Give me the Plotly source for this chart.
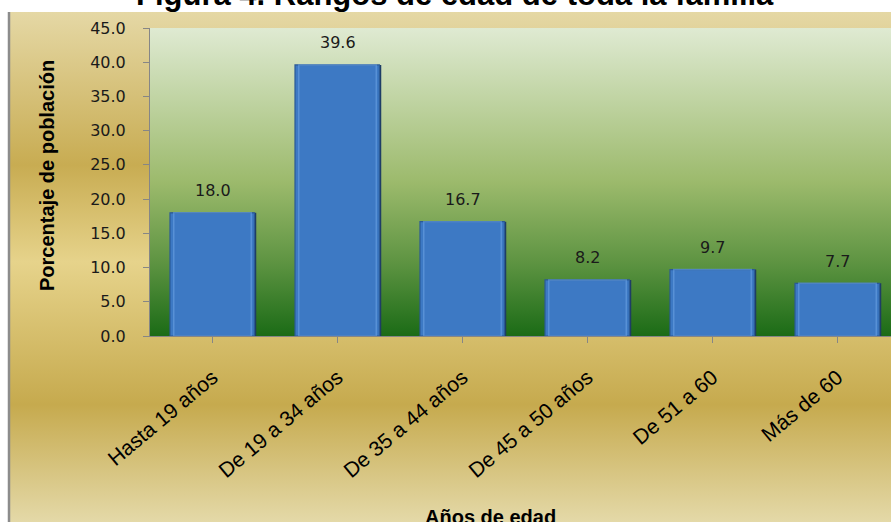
import base64
import plotly.graph_objects as go

# ---- data ----
categories = ["Hasta 19 años", "De 19 a 34 años", "De 35 a 44 años",
              "De 45 a 50 años", "De 51 a 60", "Más de 60"]
values = [18.0, 39.6, 16.7, 8.2, 9.7, 7.7]
y_ticks = [0, 5, 10, 15, 20, 25, 30, 35, 40, 45]
title_text = "Figura 4. Rangos de edad de toda la familia"
x_title = "Años de edad"
y_title = "Porcentaje de población"

W, H = 891, 522
ML, MR, MT, MB = 150, 0, 28, 186
PW, PH = W - ML - MR, H - MT - MB


def px_x(p):
    return (p - ML) / PW


def px_y(p):
    return (H - MB - p) / PH


def svg_gradient(stops):
    st = "".join(f'<stop offset="{o}" stop-color="{c}"/>' for o, c in stops)
    svg = ('<svg xmlns="http://www.w3.org/2000/svg" width="100" height="100" preserveAspectRatio="none">'
           '<defs><linearGradient id="g" x1="0" y1="0" x2="0" y2="1">' + st +
           '</linearGradient></defs><rect width="100" height="100" fill="url(#g)"/></svg>')
    return "data:image/svg+xml;base64," + base64.b64encode(svg.encode()).decode()


gold = svg_gradient([(0, "#E5D8A5"), (0.30, "#C8AC52"), (0.49, "#E6D38B"),
                     (0.77, "#C6AA4E"), (1, "#E4D9A8")])
green = svg_gradient([(0, "#DFEAD2"), (0.5, "#9CBA6C"), (0.76, "#5E9442"), (1, "#1B6B16")])

fig = go.Figure()

# shadow
fig.add_trace(go.Bar(x=list(range(len(categories))), y=values, width=0.68, offset=-0.33,
                     marker=dict(color="#1E3D66", line=dict(width=0)),
                     hoverinfo="skip", showlegend=False))
# main bars
fig.add_trace(go.Bar(x=list(range(len(categories))), y=values, width=0.675, offset=-0.34,
                     marker=dict(color="#3D79C4", line=dict(color="#2B5A96", width=1.2)),
                     showlegend=False))
# inner highlight frame
fig.add_trace(go.Bar(x=list(range(len(categories))), y=values, width=0.62, offset=-0.31,
                     marker=dict(color="rgba(0,0,0,0)", line=dict(color="rgba(110,165,230,0.55)", width=1.5)),
                     hoverinfo="skip", showlegend=False))

annotations = []
for i, v in enumerate(values):
    annotations.append(dict(x=i, y=v, xref="x", yref="y", text=f"{v:.1f}", showarrow=False,
                            yanchor="middle", yshift=22,
                            font=dict(family="DejaVu Sans", size=16, color="#1a1a1a")))

annotations.append(dict(x=px_x(455), y=px_y(-5), xref="paper", yref="paper", text=f"<b>{title_text}</b>",
                        showarrow=False, xanchor="center", yanchor="middle",
                        font=dict(family="Liberation Sans", size=31, color="#000000")))
annotations.append(dict(x=px_x(490), y=px_y(517), xref="paper", yref="paper", text=f"<b>{x_title}</b>",
                        showarrow=False, xanchor="center", yanchor="middle",
                        font=dict(family="Liberation Sans", size=20, color="#000000")))
annotations.append(dict(x=px_x(47), y=px_y(176), xref="paper", yref="paper", text=f"<b>{y_title}</b>",
                        showarrow=False, xanchor="center", yanchor="middle", textangle=-90,
                        font=dict(family="Liberation Sans", size=20, color="#000000")))

fig.update_layout(
    width=W, height=H,
    margin=dict(l=ML, r=MR, t=MT, b=MB, pad=0),
    paper_bgcolor="white", plot_bgcolor="rgba(0,0,0,0)",
    barmode="overlay", bargap=0.32,
    annotations=annotations,
    images=[
        dict(source=gold, xref="paper", yref="paper", x=px_x(8), y=px_y(12),
             sizex=px_x(W) - px_x(8), sizey=px_y(12) - px_y(H), sizing="stretch",
             xanchor="left", yanchor="top", layer="below"),
        dict(source=green, xref="paper", yref="paper", x=0, y=1, sizex=1, sizey=1,
             sizing="stretch", xanchor="left", yanchor="top", layer="below"),
    ],
    shapes=[dict(type="line", xref="paper", yref="paper", x0=px_x(9), x1=px_x(9),
                 y0=px_y(12), y1=px_y(H), line=dict(color="#8C8C8C", width=2.5))],
)

fig.update_xaxes(
    range=[-0.5, len(categories) - 0.5 - 0.072],
    tickmode="array", tickvals=list(range(len(categories))), ticktext=categories,
    tickangle=-40, tickson="boundaries", ticks="outside", ticklen=6, tickcolor="#868686",
    showline=True, linecolor="#868686", linewidth=1, showgrid=False, zeroline=False,
    tickfont=dict(family="Liberation Sans", size=21, color="#000000"),
    ticklabelstandoff=14, fixedrange=True,
)
fig.update_yaxes(
    range=[0, 45], tickmode="array", tickvals=y_ticks, ticktext=[f"{t:.1f}" for t in y_ticks],
    ticks="outside", ticklen=6, tickcolor="#868686",
    showline=True, linecolor="#868686", linewidth=1, showgrid=False, zeroline=False,
    tickfont=dict(family="DejaVu Sans", size=16, color="#1a1a1a"),
    ticklabelstandoff=14, fixedrange=True,
)

fig.write_html("out.html", config={"displayModeBar": False},
               post_script="document.body.style.margin='0';")
